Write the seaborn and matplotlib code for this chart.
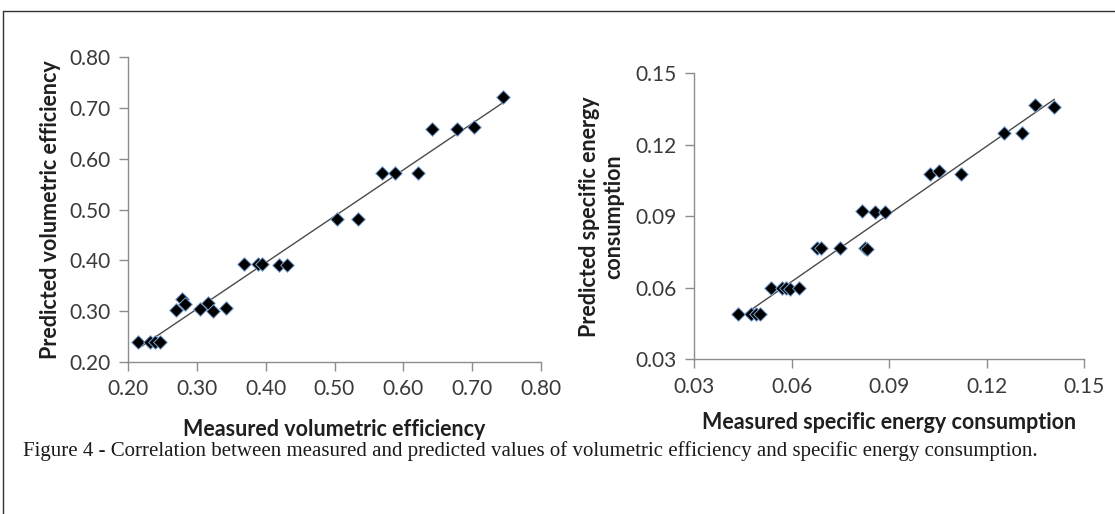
import numpy as np
import pandas as pd
import matplotlib
matplotlib.use('Agg')
import matplotlib.pyplot as plt
from matplotlib.lines import Line2D
import seaborn as sns

# measured vs predicted volumetric efficiency
ve_measured = [0.215, 0.232, 0.239, 0.246, 0.270, 0.278, 0.283, 0.305, 0.316, 0.324,
               0.343, 0.368, 0.389, 0.395, 0.419, 0.431, 0.503, 0.534, 0.569, 0.588,
               0.621, 0.642, 0.678, 0.702, 0.745]
ve_predicted = [0.240, 0.240, 0.240, 0.240, 0.302, 0.324, 0.314, 0.305, 0.316, 0.301,
                0.306, 0.393, 0.393, 0.393, 0.390, 0.390, 0.482, 0.482, 0.571, 0.571,
                0.571, 0.659, 0.659, 0.662, 0.722]

# measured vs predicted specific energy consumption
sec_measured = [0.0436, 0.0475, 0.0491, 0.0503, 0.0537, 0.0570, 0.0582, 0.0595, 0.0623,
                0.0679, 0.0692, 0.0749, 0.0826, 0.0831, 0.0817, 0.0858, 0.0887,
                0.1025, 0.1054, 0.1120, 0.1254, 0.1309, 0.1348, 0.1408]
sec_predicted = [0.0489, 0.0489, 0.0489, 0.0489, 0.0600, 0.0600, 0.0600, 0.0597, 0.0600,
                 0.0765, 0.0765, 0.0765, 0.0765, 0.0763, 0.0921, 0.0920, 0.0920,
                 0.1077, 0.1091, 0.1077, 0.1249, 0.1250, 0.1367, 0.1360]

ve_ticks = [0.20, 0.30, 0.40, 0.50, 0.60, 0.70, 0.80]
sec_ticks = [0.03, 0.06, 0.09, 0.12, 0.15]

sns.set_style('white')
plt.rcParams['font.family'] = ['Lato', 'DejaVu Sans']

fig = plt.figure(figsize=(11.15, 5.14), dpi=100)
ax1 = fig.add_axes([0.1148, 0.2957, 0.3704, 0.5934])
ax2 = fig.add_axes([0.6224, 0.3010, 0.3501, 0.5564])

df_ve = pd.DataFrame({'measured': ve_measured, 'predicted': ve_predicted})
df_sec = pd.DataFrame({'measured': sec_measured, 'predicted': sec_predicted})

spine_col = '#8c8c8c'
tick_col = '#3a3a3a'
label_col = '#1f1f1f'

for ax, df, ticks in [(ax1, df_ve, ve_ticks), (ax2, df_sec, sec_ticks)]:
    sns.regplot(data=df, x='measured', y='predicted', ax=ax, scatter=False, ci=None,
                line_kws={'color': '#4a4a4a', 'linewidth': 1.0, 'zorder': 2})
    sns.scatterplot(data=df, x='measured', y='predicted', ax=ax, marker='D', s=48,
                    color='black', edgecolor='#7aa6d6', linewidth=0.7, zorder=3)
    ax.set_xlim(ticks[0], ticks[-1])
    ax.set_ylim(ticks[0], ticks[-1])
    ax.set_xticks(ticks)
    ax.set_yticks(ticks)
    ax.set_xticklabels(['{:.2f}'.format(t) for t in ticks])
    ax.set_yticklabels(['{:.2f}'.format(t) for t in ticks])
    for s in ['top', 'right']:
        ax.spines[s].set_visible(False)
    for s in ['left', 'bottom']:
        ax.spines[s].set_color(spine_col)
        ax.spines[s].set_linewidth(1.0)
    ax.tick_params(axis='both', which='major', direction='out', length=6.5, width=1.0,
                   color=spine_col, labelsize=15, labelcolor=tick_col, pad=6)
    ax.tick_params(axis='x', bottom=True)
    ax.tick_params(axis='y', left=True)

ax1.set_xlabel('Measured volumetric efficiency', fontsize=15.5, fontweight='bold',
               color=label_col, labelpad=14)
ax1.set_ylabel('Predicted volumetric efficiency', fontsize=15.5, fontweight='bold',
               color=label_col, labelpad=6)
ax2.set_xlabel('Measured specific energy consumption', fontsize=15.5, fontweight='bold',
               color=label_col, labelpad=11)
ax2.set_ylabel('Predicted specific energy\nconsumption', fontsize=15.5, fontweight='bold',
               color=label_col, labelpad=8, linespacing=1.2)

fig.text(0.021, 0.1226,
         'Figure 4 - Correlation between measured and predicted values of volumetric '
         'efficiency and specific energy consumption.',
         family='Liberation Serif', fontsize=15, color='#1a1a1a', va='center', ha='left')

# frame around the figure (left and top edges visible)
fig.add_artist(Line2D([0.003, 0.003], [0.0, 0.979], color='#333333', linewidth=1.0))
fig.add_artist(Line2D([0.003, 1.0], [0.979, 0.979], color='#333333', linewidth=1.0))

fig.savefig('out.png', dpi=100)
